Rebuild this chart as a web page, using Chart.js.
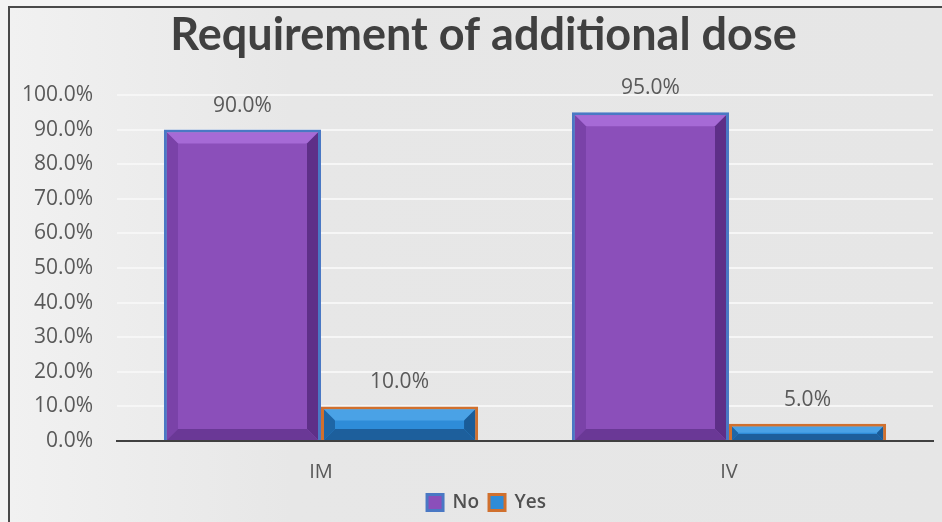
<!DOCTYPE html>
<html lang="en">
<head>
  <meta charset="UTF-8">
  <title>Requirement of additional dose</title>
  <script src="https://cdn.jsdelivr.net/npm/chart.js"></script>
  <style>
    html, body {
      margin: 0;
      padding: 0;
      background: #f4f4f4;
    }
    #wrap {
      position: absolute;
      left: 8px;
      top: 6px;
      width: 934px;
      height: 516px;
      border-left: 2px solid #4a4a4a;
      border-top: 2px solid #4a4a4a;
      background: linear-gradient(90deg, #f1f1f1 0%, #e7e7e7 30%, #e6e6e6 100%);
    }
    canvas { display: block; }
  </style>
</head>
<body>
  <div id="wrap"><canvas id="doseChart" width="934" height="516"></canvas></div>

  <script>
    const routes = ['IM', 'IV'];
    const noValues = [90.0, 95.0];
    const yesValues = [10.0, 5.0];

    // bevelled face drawn on top of each bar, Excel-style
    const bevelPlugin = {
      id: 'bevel',
      afterDatasetsDraw(chart) {
        const ctx = chart.ctx;
        chart.data.datasets.forEach((ds, i) => {
          const meta = chart.getDatasetMeta(i);
          const shades = ds.bevel;
          meta.data.forEach(bar => {
            const p = bar.getProps(['x', 'y', 'base', 'width'], true);
            const inset = ds.borderWidth;
            const l = p.x - p.width / 2 + inset;
            const r = p.x + p.width / 2 - inset;
            const t = p.y + inset;
            const b = p.base;
            const h = b - t;
            const bv = Math.min(11, h / 2.2);
            const quad = (pts, c) => {
              ctx.beginPath();
              ctx.moveTo(pts[0][0], pts[0][1]);
              pts.slice(1).forEach(q => ctx.lineTo(q[0], q[1]));
              ctx.closePath();
              ctx.fillStyle = c;
              ctx.fill();
            };
            ctx.save();
            quad([[l, t], [r, t], [r - bv, t + bv], [l + bv, t + bv]], shades.top);
            quad([[l, t], [l + bv, t + bv], [l + bv, b - bv], [l, b]], shades.left);
            quad([[r, t], [r, b], [r - bv, b - bv], [r - bv, t + bv]], shades.right);
            quad([[l, b], [l + bv, b - bv], [r - bv, b - bv], [r, b]], shades.bottom);
            ctx.restore();
          });
        });
      }
    };

    // value labels above the bars
    const valueLabels = {
      id: 'valueLabels',
      afterDatasetsDraw(chart) {
        const ctx = chart.ctx;
        ctx.save();
        ctx.font = '21px "Open Sans", sans-serif';
        ctx.fillStyle = '#595959';
        ctx.textAlign = 'center';
        ctx.textBaseline = 'middle';
        chart.data.datasets.forEach((ds, i) => {
          chart.getDatasetMeta(i).data.forEach((bar, j) => {
            ctx.fillText(ds.data[j].toFixed(1) + '%', bar.x, bar.y - 24);
          });
        });
        ctx.restore();
      }
    };

    // nudge title and legend a little right of the canvas centre
    const centreShift = {
      id: 'centreShift',
      afterLayout(chart) {
        if (chart.titleBlock) chart.titleBlock.left += 24;
        if (chart.legend) chart.legend.left += 30;
      }
    };

    new Chart(document.getElementById('doseChart'), {
      type: 'bar',
      data: {
        labels: routes,
        datasets: [{
          label: 'No',
          data: noValues,
          backgroundColor: '#8b4fba',
          borderColor: '#4a78c4',
          borderWidth: 3,
          borderSkipped: 'bottom',
          bevel: { top: '#a66ad6', left: '#7a42a8', right: '#5e2f88', bottom: '#6a3896' }
        }, {
          label: 'Yes',
          data: yesValues,
          backgroundColor: '#2e8cd8',
          borderColor: '#d0702e',
          borderWidth: 3,
          borderSkipped: 'bottom',
          bevel: { top: '#4aa2e6', left: '#1e66a6', right: '#1a5c98', bottom: '#1d5f9c' }
        }]
      },
      options: {
        responsive: false,
        animation: false,
        layout: { padding: { left: 0, right: 11, top: 0, bottom: 2 } },
        datasets: {
          bar: { categoryPercentage: 0.77, barPercentage: 1.0 }
        },
        scales: {
          x: {
            grid: { display: false },
            border: { color: '#404040', width: 2 },
            afterFit: s => { s.height = 42; },
            ticks: {
              color: '#595959',
              font: { family: '"Open Sans", sans-serif', size: 20 },
              padding: 11
            }
          },
          y: {
            min: 0,
            max: 100,
            afterFit: s => { s.width = 107; },
            ticks: {
              stepSize: 10,
              color: '#595959',
              font: { family: '"Open Sans", sans-serif', size: 21 },
              padding: 24,
              callback: v => v.toFixed(1) + '%'
            },
            grid: { color: '#f6f6f6', lineWidth: 2, drawTicks: false },
            border: { display: false }
          }
        },
        plugins: {
          title: {
            display: true,
            text: 'Requirement of additional dose',
            color: '#404040',
            font: { family: 'Lato, sans-serif', size: 45, weight: 'bold' },
            padding: { top: 0, bottom: 33 }
          },
          legend: {
            position: 'bottom',
            labels: {
              color: '#505050',
              boxWidth: 16,
              boxHeight: 16,
              padding: 10,
              font: { family: '"Open Sans", sans-serif', size: 19, weight: '600' }
            }
          },
          tooltip: { enabled: false }
        }
      },
      plugins: [bevelPlugin, valueLabels, centreShift]
    });
  </script>
</body>
</html>
